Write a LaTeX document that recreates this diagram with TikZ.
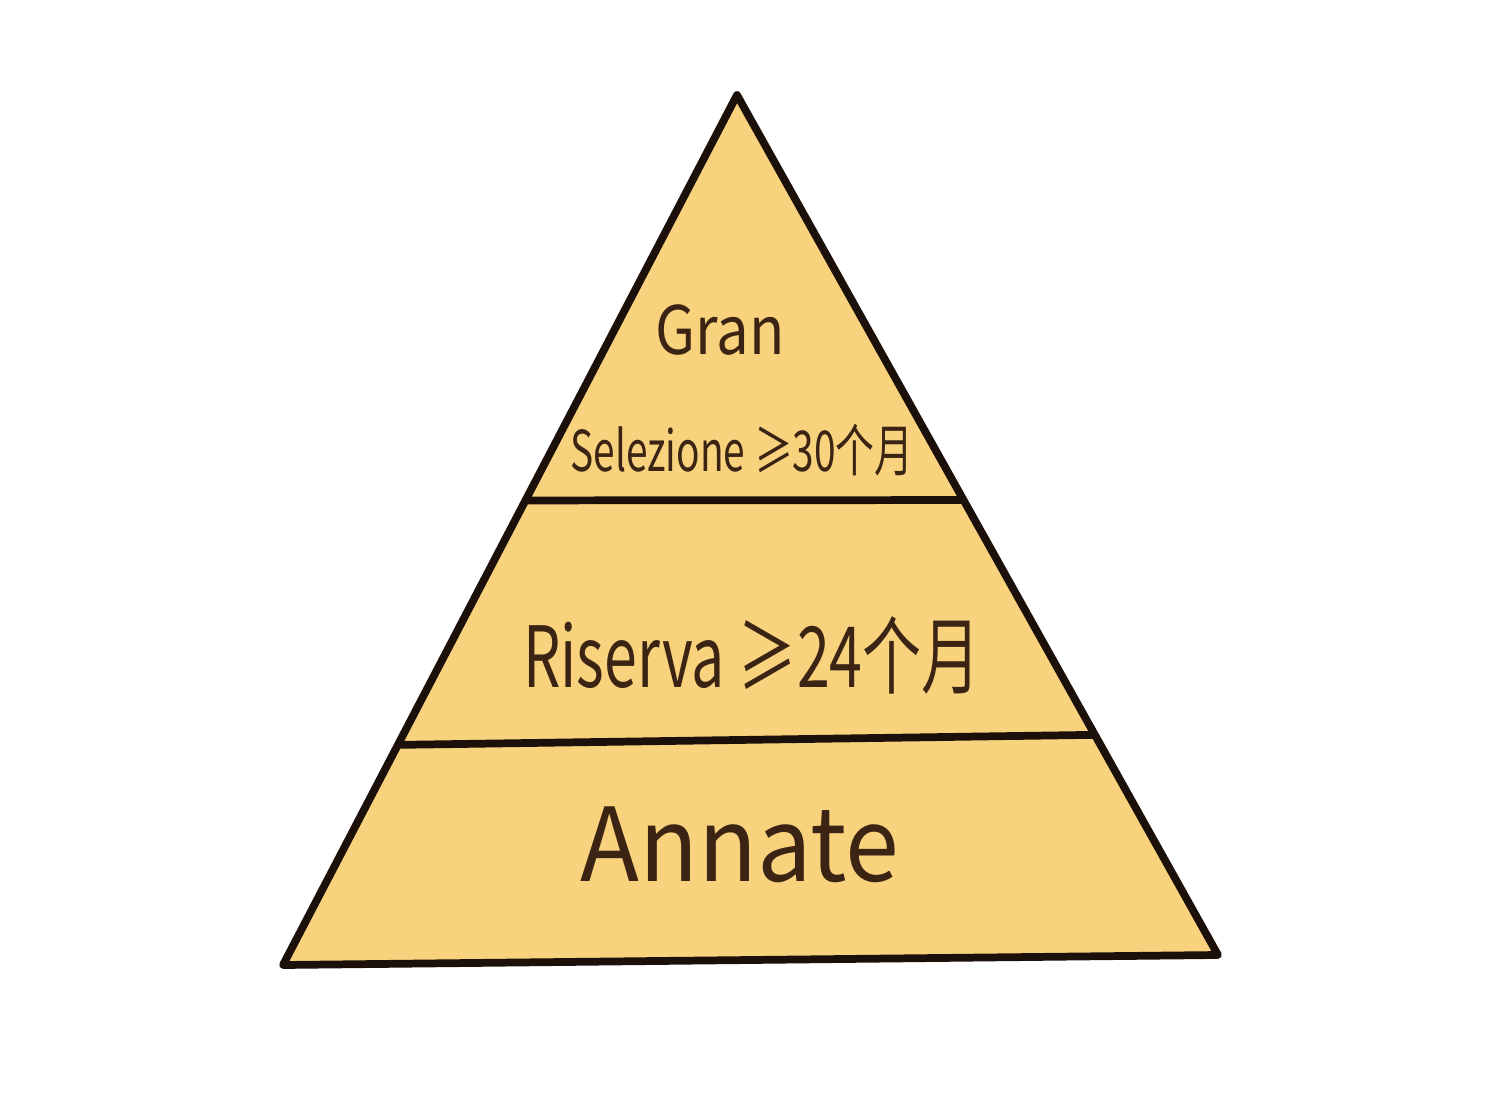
\documentclass[tikz,border=0pt]{standalone}
\usepackage{fontspec}
\setmainfont{Noto Sans CJK SC}
\usetikzlibrary{calc}
\definecolor{pyrfill}{HTML}{F8D27C}
\definecolor{pyrline}{HTML}{1C100A}
\definecolor{inkbrown}{HTML}{3B2414}
\tikzset{layer/.style={text=inkbrown,inner sep=0pt}}
\begin{document}
\begin{tikzpicture}[x=0.01cm,y=-0.01cm]
\useasboundingbox (0,0) rectangle (1500,1097);
\coordinate (apex) at (737,95);\coordinate (bl) at (283,965);\coordinate (br) at (1218,955);
\coordinate (l1) at ($(apex)!0.466!(bl)$);\coordinate (r1) at ($(apex)!0.471!(br)$);
\coordinate (l2) at ($(apex)!0.747!(bl)$);\coordinate (r2) at ($(apex)!0.744!(br)$);
\draw[pyrline,fill=pyrfill,line width=2.2pt,line join=round] (apex)--(bl)--(br)--cycle;
\draw[pyrline,line width=2.2pt] (l1)--(r1);
\draw[pyrline,line width=2.2pt] (l2)--(r2);
\node[layer,font=\fontsize{19}{19}\selectfont,xscale=0.87] (gran) at (720,330){Gran};
\node[layer,font=\fontsize{16}{16}\selectfont,xscale=0.69] (selezione) at (742,450){Selezione ≥30个月};
\node[layer,font=\fontsize{24}{24}\selectfont,xscale=0.7] (riserva) at (752,655){Riserva ≥24个月};
\node[layer,font=\fontsize{29}{29}\selectfont,xscale=0.95] (annate) at (740,845){Annate};
\end{tikzpicture}
\end{document}
